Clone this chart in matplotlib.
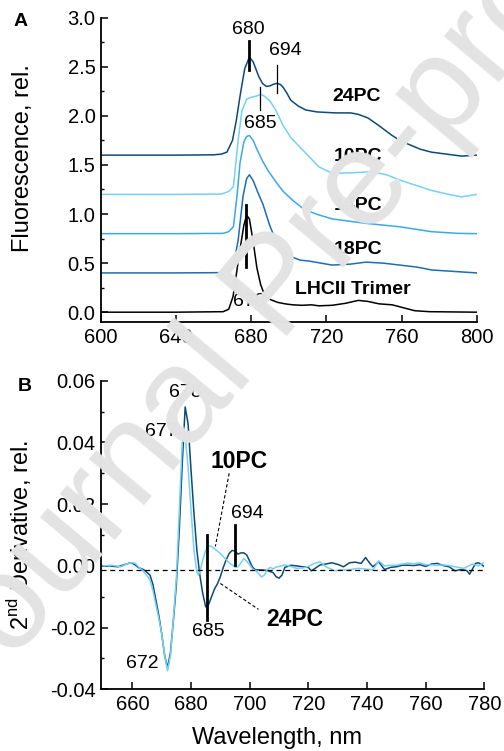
import matplotlib
matplotlib.use("Agg")
import matplotlib.pyplot as plt
from matplotlib.ticker import MultipleLocator, FormatStrFormatter

plt.rcParams['font.family'] = ['Liberation Sans', 'DejaVu Sans']

# ---------------- Panel A data (normalized spectra, stacked by offsets) ----------------
wl_24 = [600, 640, 660, 664, 667, 670, 672, 674, 676.5, 679, 681, 684, 686, 688, 690, 691.5,
         693.5, 695.5, 697, 699, 701, 705, 709, 715, 725, 733, 737, 742, 748, 755, 759, 765,
         770, 776, 784, 792, 800]
pc24 = [0.0, 0.0, 0.003, 0.01, 0.03, 0.15, 0.35, 0.6, 0.88, 1.0, 0.95, 0.8, 0.73, 0.70, 0.705, 0.72,
        0.73, 0.72, 0.69, 0.63, 0.56, 0.50, 0.46, 0.44, 0.43, 0.43, 0.415, 0.38, 0.30, 0.20, 0.15, 0.10,
        0.06, 0.03, 0.01, -0.01, 0.0]

wl_10 = [600, 640, 664, 668, 670.5, 673, 675, 677.5, 680, 682.5, 685, 687, 690, 693, 697, 701,
         705.7, 710, 716, 723, 733, 744, 752, 760, 768, 776, 785, 792, 800]
pc10 = [0.0, 0.0, 0.003, 0.03, 0.08, 0.55, 0.85, 0.97, 0.99, 1.0, 1.02, 1.0, 0.95, 0.86, 0.70, 0.58,
        0.485, 0.40, 0.28, 0.215, 0.22, 0.23, 0.20, 0.14, 0.09, 0.04, 0.0, -0.025, 0.0]

wl_14 = [600, 640, 665, 668, 670.5, 672.5, 674, 676, 677.5, 679, 681, 683, 686, 689, 693, 697,
         702, 708, 714.5, 723, 741, 759, 776, 790, 800]
pc14 = [0.0, 0.0, 0.003, 0.02, 0.07, 0.40, 0.72, 0.93, 0.99, 1.0, 0.95, 0.86, 0.74, 0.64, 0.53, 0.43,
        0.34, 0.25, 0.20, 0.15, 0.105, 0.07, 0.02, 0.003, 0.0]

wl_18 = [600, 640, 665, 668, 670.5, 673, 675.6, 677.5, 679, 681, 683.5, 686.2, 689.7, 692, 695,
         698, 702, 706, 711, 723, 733, 741, 750, 759, 768, 776, 800]
pc18 = [0.0, 0.0, 0.003, 0.02, 0.08, 0.33, 0.78, 0.96, 1.0, 0.94, 0.82, 0.70, 0.49, 0.38, 0.27,
        0.20, 0.16, 0.13, 0.12, 0.08, 0.09, 0.11, 0.10, 0.08, 0.06, 0.03, 0.0]

wl_lh = [600, 640, 665, 668, 670.3, 672, 674, 676, 677.5, 679, 681, 683, 685, 687, 690, 694,
         698, 702, 707, 712, 716, 723, 730, 737, 742, 748, 755, 760, 767, 775, 800]
lhcii = [0.0, 0.0, 0.005, 0.03, 0.16, 0.38, 0.64, 0.88, 0.99, 0.95, 0.72, 0.45, 0.28, 0.18, 0.13, 0.10,
         0.085, 0.075, 0.07, 0.075, 0.065, 0.07, 0.09, 0.12, 0.11, 0.085, 0.075, 0.05, 0.015, 0.005, 0.0]

offsets = [1.6, 1.2, 0.8, 0.4, 0.0]
names_a = ['24PC', '10PC', '14PC', '18PC', 'LHCII Trimer']
label_x_a = [723, 724, 724, 724, 703.5]
label_y_a = [2.195, 1.59, 1.09, 0.64, 0.235]
colors_a = ['#0d4a78', '#74d1f6', '#3aa9e6', '#1c6db2', '#000000']

# ---------------- Panel B data (2nd derivative) ----------------
wl_b24 = [650, 652, 655, 657, 659, 660, 661, 662, 664, 666, 667, 668, 669, 670, 671, 672, 673, 674,
          675, 676, 677, 678, 679, 680, 681, 682, 683, 684, 685, 686, 687, 688, 689, 690, 691, 692,
          693, 694, 695, 696, 697, 698, 699, 700, 701, 702, 704, 706, 708, 709, 710, 711, 712, 714,
          716, 718, 720, 721, 722, 724, 726, 728, 730, 732, 734, 736, 738, 739.5, 741, 742, 744, 746,
          748, 750, 752, 754, 756, 758, 760, 762, 764, 766, 768, 770, 772, 774, 775, 777, 778, 779, 780]
d2_24 = [0.0, 0.0, -0.0003, 0.0003, 0.0009, 0.0008, 0.0003, -0.0005, -0.0013, -0.003, -0.006, -0.011,
         -0.016, -0.022, -0.029, -0.033, -0.028, -0.0175, -0.006, 0.012, 0.033, 0.0515, 0.046, 0.031,
         0.017, 0.005, -0.003, -0.009, -0.0133, -0.0125, -0.010, -0.0075, -0.0058, -0.0035, -0.0005,
         0.002, 0.004, 0.005, 0.0048, 0.0038, 0.0042, 0.0042, 0.0035, 0.0015, -0.0005, -0.0013,
         -0.0013, -0.0015, -0.0022, -0.0035, -0.0040, -0.0030, -0.0005, 0.0002, 0.0, -0.0003, -0.0005,
         -0.0016, -0.0010, 0.0003, 0.0006, 0.0010, 0.0005, -0.0003, 0.0010, 0.0012, 0.0008, 0.0027,
         0.0008, -0.0003, 0.0013, -0.0012, -0.0005, -0.0003, 0.0002, 0.0002, 0.0001, 0.0004, -0.0002,
         0.0006, 0.0008, 0.0001, -0.0003, -0.0016, -0.0012, -0.0015, -0.0027, 0.0008, 0.0010, 0.0005,
         -0.0003]

wl_b10 = [650, 653, 656, 658, 660, 661, 662, 664, 666, 667, 668, 669, 670, 671, 672, 673, 674, 675,
          676, 677, 677.5, 678, 679, 680, 681, 682, 682.5, 683, 684, 685, 686, 687, 688, 689, 690,
          691, 692, 693, 694, 695, 696, 697, 698, 699, 700, 701, 702, 703, 704, 705, 706, 707, 708,
          709, 710, 712, 714, 716, 718, 720, 722, 724, 726, 729, 731, 733, 735, 737, 739, 742, 744,
          746, 748, 750, 752, 754, 756, 758, 760, 762, 764, 766, 768, 770, 773, 776, 778, 780]
d2_10 = [0.0, 0.0002, -0.0003, 0.0006, 0.001, 0.0008, -0.0002, -0.002, -0.0045, -0.008, -0.0125,
         -0.017, -0.022, -0.029, -0.034, -0.029, -0.017, -0.004, 0.018, 0.040, 0.045, 0.042, 0.032,
         0.018, 0.005, -0.002, -0.003, -0.002, 0.002, 0.005, 0.0065, 0.0063, 0.0055, 0.0048, 0.004,
         0.003, 0.002, 0.001, 0.0003, -0.0005, -0.0003, 0.001, 0.0024, 0.0015, 0.0003, -0.001,
         -0.0015, -0.0025, -0.0036, -0.003, -0.0012, -0.0005, -0.001, -0.0004, -0.0002, 0.0003,
         -0.0002, -0.0008, -0.0007, -0.0002, 0.0008, 0.0013, -0.0003, -0.0016, -0.0013, -0.0013,
         -0.0011, -0.0008, -0.0010, -0.0013, 0.0016, 0.0, 0.0002, 0.0002, 0.0006, 0.0009, 0.0007,
         0.0010, 0.0004, 0.0003, 0.0002, 0.0003, 0.0001, -0.0003, -0.0008, 0.0006, 0.0, 0.0012]

baseline_b = -0.0014

fig = plt.figure(figsize=(5.04, 7.51), dpi=100)
W, H = 504.0, 751.0

def add_ax(l, t, r, b):
    return fig.add_axes([l / W, 1 - b / H, (r - l) / W, (b - t) / H])

# ---------------- Panel A ----------------
axA = add_ax(101, 17.7, 476.7, 322)
series_a = [(wl_24, pc24), (wl_10, pc10), (wl_14, pc14), (wl_18, pc18), (wl_lh, lhcii)]
for (x, y), off, c in zip(series_a, offsets, colors_a):
    axA.plot(x, [v + off for v in y], color=c, lw=1.1, solid_joinstyle='round')

axA.set_xlim(600, 800)
axA.set_ylim(-0.1, 3.0)
axA.xaxis.set_major_locator(MultipleLocator(40))
axA.yaxis.set_major_locator(MultipleLocator(0.5))
axA.yaxis.set_minor_locator(MultipleLocator(0.25))
axA.yaxis.set_major_formatter(FormatStrFormatter('%.1f'))

# annotations A
axA.plot([679, 679], [2.47, 2.76], color='black', lw=2.0)
axA.text(678.5, 2.88, '680', ha='center', va='center', fontsize=14)
axA.plot([693.6, 693.6], [2.23, 2.52], color='black', lw=0.9)
axA.text(698, 2.67, '694', ha='center', va='center', fontsize=14)
axA.plot([684.4, 684.4], [2.06, 2.29], color='black', lw=0.9)
axA.text(685, 1.92, '685', ha='center', va='center', fontsize=14)
axA.plot([677, 677], [0.46, 1.09], color='black', lw=2.0)
axA.text(679, 0.11, '678', ha='center', va='center', fontsize=14)

for name, lx, ly in zip(names_a, label_x_a, label_y_a):
    axA.text(lx, ly, name, ha='left', va='center', fontsize=14, fontweight='bold')

axA.set_ylabel('Fluorescence, rel.', fontsize=17)
axA.yaxis.set_label_coords(-0.178, 0.54)
fig.text(21 / W, 1 - 21.7 / H, 'A', fontsize=14, fontweight='bold', ha='center', va='center')

# ---------------- Panel B ----------------
axB = add_ax(101, 380.7, 484.3, 689.3)
axB.plot(wl_b24, d2_24, color='#0d4a78', lw=1.1, solid_joinstyle='round')
axB.plot(wl_b10, d2_10, color='#74d1f6', lw=1.1, solid_joinstyle='round')
axB.plot([649.3, 780], [baseline_b, baseline_b], color='black', lw=0.9, ls=(0, (4, 3)))
axB.set_xlim(649.3, 780)
axB.set_ylim(-0.04, 0.06)
axB.xaxis.set_major_locator(MultipleLocator(20))
axB.yaxis.set_major_locator(MultipleLocator(0.02))
axB.yaxis.set_minor_locator(MultipleLocator(0.01))
axB.yaxis.set_major_formatter(FormatStrFormatter('%.2f'))

# annotations B
axB.text(678, 0.0563, '678', ha='center', va='center', fontsize=14)
axB.text(675.5, 0.0437, '677', ha='right', va='center', fontsize=14)
axB.text(663.3, -0.0318, '672', ha='center', va='center', fontsize=14)
axB.plot([685.4, 685.4], [-0.0175, 0.010], color='black', lw=2.0)
axB.text(686, -0.0213, '685', ha='center', va='center', fontsize=14)
axB.plot([695.1, 695.1], [0.0004, 0.0132], color='black', lw=2.0)
axB.text(699.1, 0.0170, '694', ha='center', va='center', fontsize=14)
axB.text(696.3, 0.0338, '10PC', ha='center', va='center', fontsize=16.5, fontweight='bold')
axB.plot([693.0, 688.3], [0.030, 0.0063], color='black', lw=0.8, ls=(0, (3, 2)))
axB.text(715.3, -0.0175, '24PC', ha='center', va='center', fontsize=16.5, fontweight='bold')
axB.plot([690.0, 703.0], [-0.0057, -0.0141], color='black', lw=0.8, ls=(0, (3, 2)))

axB.set_ylabel('2$^{\\mathregular{nd}}$ Derivative, rel.', fontsize=17)
axB.yaxis.set_label_coords(-0.175, 0.5)
fig.text(276.7 / W, 1 - 738 / H, 'Wavelength, nm', fontsize=17, ha='center', va='center')
fig.text(25 / W, 1 - 386.7 / H, 'B', fontsize=14, fontweight='bold', ha='center', va='center')

for ax in (axA, axB):
    for s in ('top', 'right'):
        ax.spines[s].set_visible(False)
    for s in ('left', 'bottom'):
        ax.spines[s].set_linewidth(1.3)
    ax.tick_params(which='major', direction='in', length=5, width=1.1, labelsize=14.5, pad=4)
    ax.tick_params(which='minor', direction='in', length=2.5, width=1.0)
    ax.tick_params(axis='x', which='minor', bottom=False)

# watermark
fig.text(280 / W, 1 - 290 / H, 'Journal Pre-proof', fontsize=98, color='#e3e3e3',
         rotation=50, rotation_mode='anchor', ha='center', va='center', zorder=10)

fig.savefig('out.png', dpi=100)
